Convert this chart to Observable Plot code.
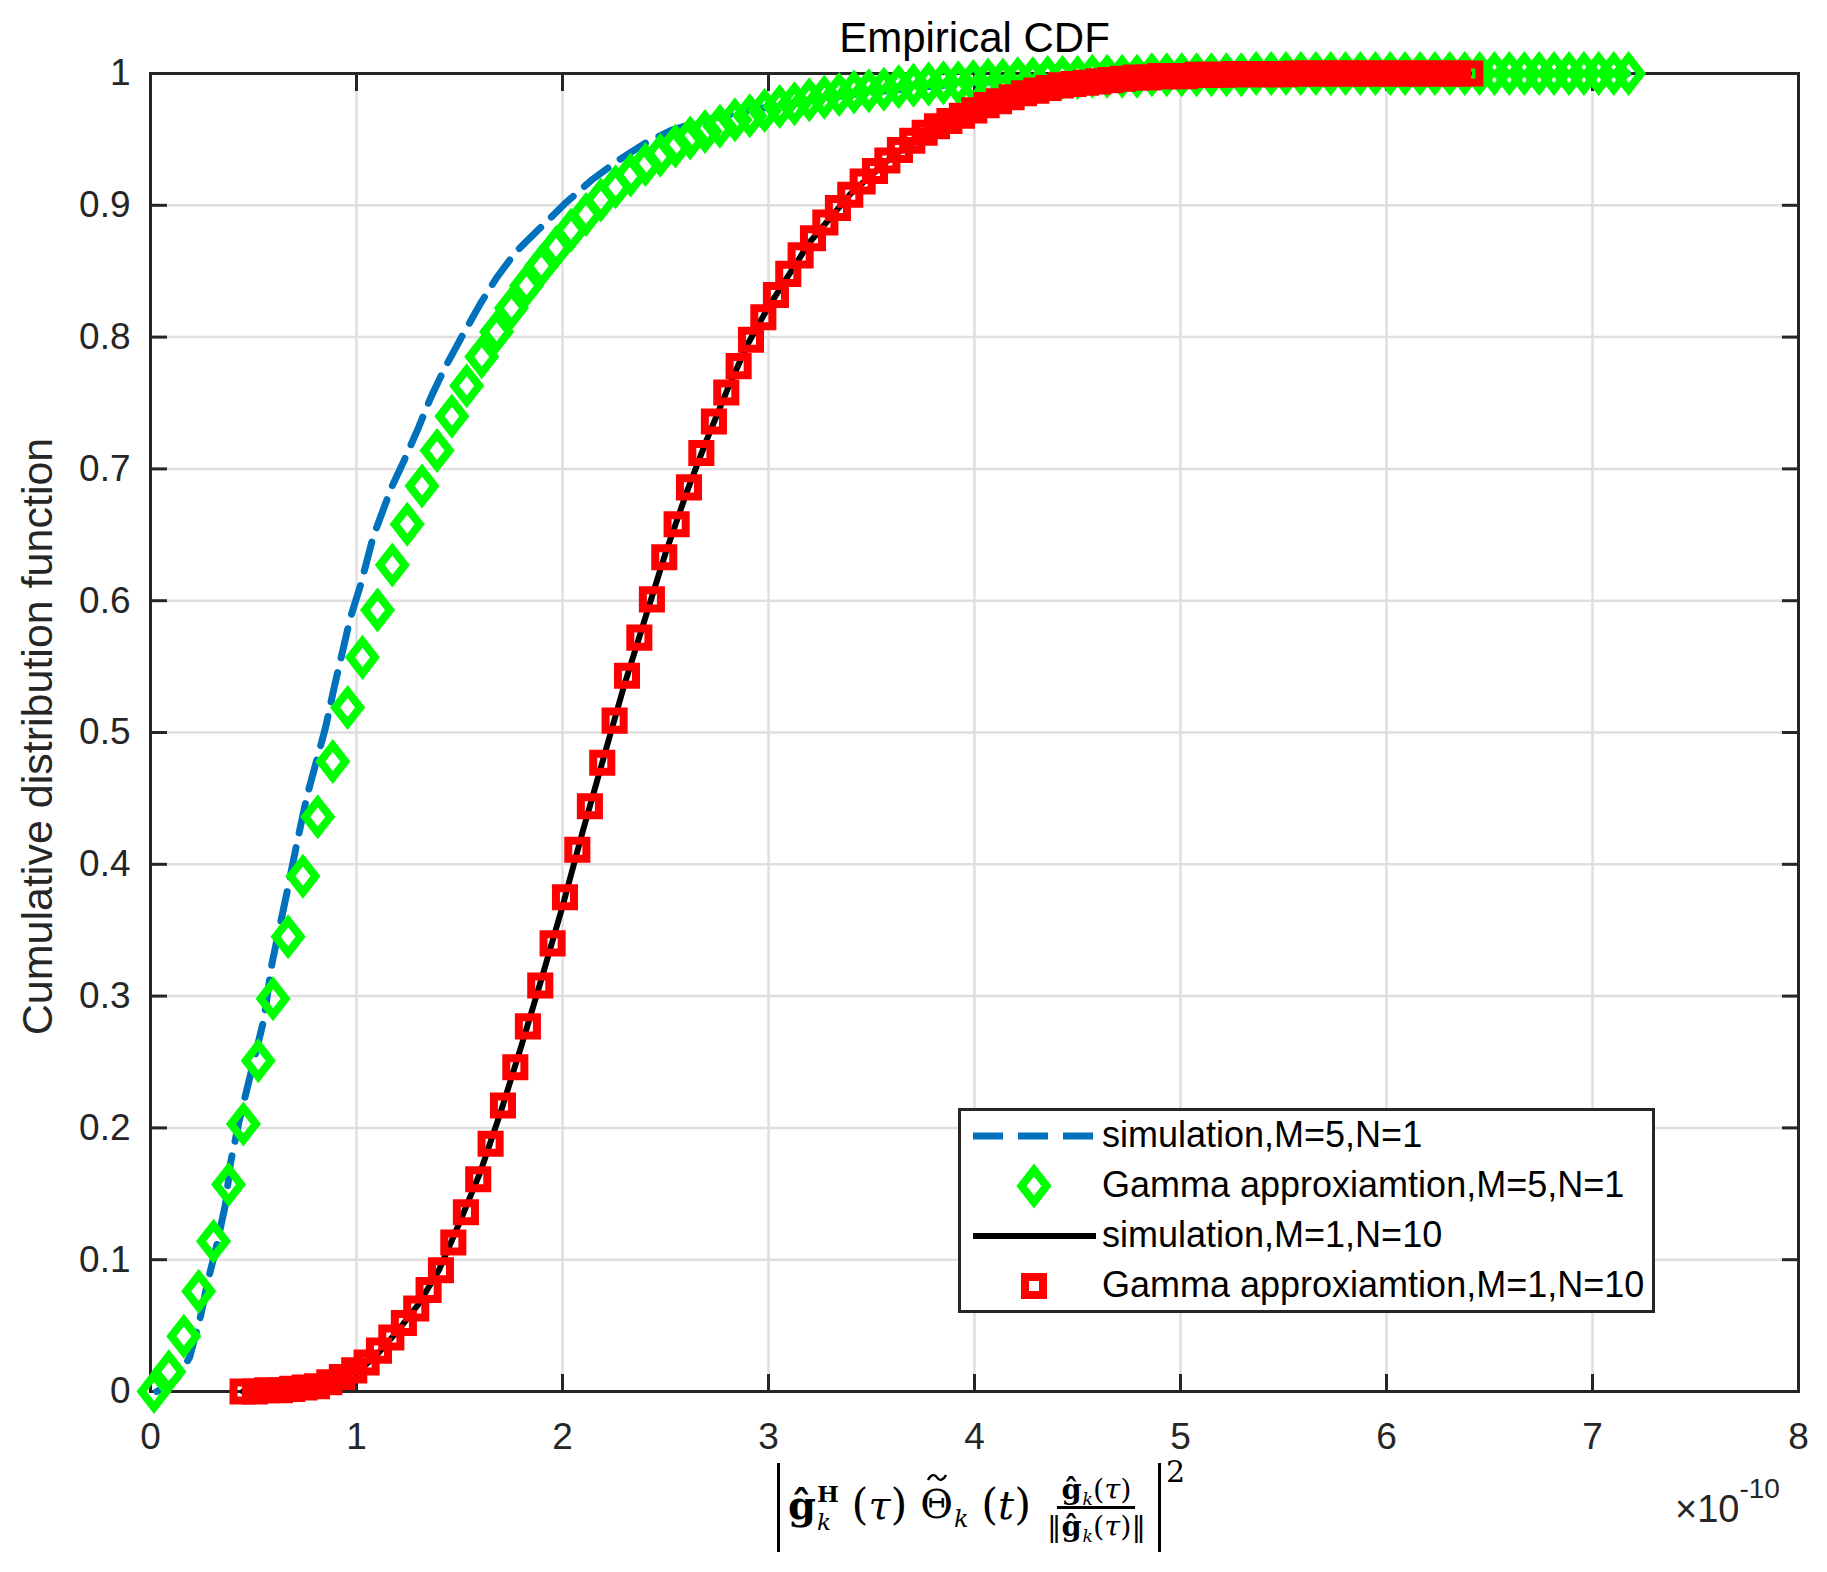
<!DOCTYPE html>
<html><head><meta charset="utf-8">
<script src="https://cdn.jsdelivr.net/npm/d3@7"></script>
<script src="https://cdn.jsdelivr.net/npm/@observablehq/plot@0.6"></script>
<style>
body{margin:0;background:#fff;}
#wrap{position:relative;width:1827px;height:1572px;overflow:hidden;}
#legend{position:absolute;left:958px;top:1108px;width:697px;height:205px;box-sizing:border-box;border:3px solid #262626;background:#fff;font-family:"Liberation Sans",Arial,sans-serif;font-size:36px;color:#000;}
.lrow{position:absolute;left:0;height:50px;width:100%;}
.lrow svg{position:absolute;left:9px;top:0;}
.lrow span{position:absolute;left:141px;top:4px;line-height:40px;white-space:nowrap;}
#xlab{position:absolute;left:777px;top:1463px;height:89px;display:flex;font-family:"DejaVu Serif","Liberation Serif",serif;color:#000;}
#absbox{border-left:3px solid #000;border-right:3px solid #000;height:89px;box-sizing:border-box;display:flex;align-items:center;padding:0 12px 0 8px;font-size:40px;white-space:nowrap;}
.m{line-height:1;}
.ss{display:inline-flex;flex-direction:column;font-size:0.58em;line-height:1.2;margin-left:1px;vertical-align:0.72em;}
.sub{font-size:0.6em;vertical-align:-0.35em;line-height:0;margin-left:1px;}
.par{font-size:1.08em;}
.acc{position:relative;display:inline-block;}
.acc svg{position:absolute;left:50%;top:-0.28em;transform:translateX(-50%);}
.frac{display:inline-flex;flex-direction:column;align-items:center;font-size:0.72em;margin-left:16px;line-height:1.05;}
.frac .num{border-bottom:3px solid #000;padding:0 4px 2px 4px;}
.frac .den{padding-top:2px;}
.sq{font-size:30px;margin-left:5px;margin-top:-6px;line-height:1;}
#sci{position:absolute;left:1675px;top:1488px;font-family:"Liberation Sans",Arial,sans-serif;font-size:38px;color:#262626;white-space:nowrap;}
#sci sup{font-size:28px;vertical-align:0.85em;line-height:0;}
</style></head>
<body><div id="wrap"></div>
<script>
// ---------------- data ----------------
const titleText = "Empirical CDF";
const yLabelText = "Cumulative distribution function";
const xTicks = [0, 1, 2, 3, 4, 5, 6, 7, 8];
const yTicks = [0, 0.1, 0.2, 0.3, 0.4, 0.5, 0.6, 0.7, 0.8, 0.9, 1];
const legendLabels = [
  "simulation,M=5,N=1",
  "Gamma approxiamtion,M=5,N=1",
  "simulation,M=1,N=10",
  "Gamma approxiamtion,M=1,N=10"
];

// simulation, M=5, N=1 (blue dashed)
const blueX = [0.03,0.08,0.13,0.19,0.243,0.28,0.316,0.364,0.388,0.43,0.477,0.55,0.59,0.663,0.712,0.76,0.80,0.85,0.89,0.93,0.97,1.02,1.08,1.17,1.23,1.30,1.36,1.43,1.51,1.60,1.68,1.77,1.88,2.01,2.14,2.27,2.40,2.53,2.70,2.90,3.10,3.40,3.70,4.00,4.50,5.00,5.50,6.20,7.17];
const blueY = [0,0.004,0.010,0.026,0.057,0.085,0.107,0.142,0.173,0.205,0.235,0.282,0.325,0.379,0.417,0.452,0.475,0.504,0.533,0.560,0.587,0.612,0.648,0.686,0.706,0.731,0.754,0.777,0.800,0.825,0.845,0.864,0.881,0.901,0.919,0.934,0.947,0.957,0.965,0.972,0.977,0.984,0.989,0.993,0.997,0.998,0.999,1.0,1.0];

// Gamma approximation, M=5, N=1 (green diamonds)
const greenX = [0.017,0.089,0.162,0.234,0.306,0.379,0.451,0.523,0.595,0.668,0.740,0.812,0.885,0.957,1.029,1.102,1.174,1.246,1.318,1.391,1.463,1.535,1.608,1.680,1.752,1.825,1.897,1.969,2.041,2.114,2.186,2.258,2.331,2.403,2.475,2.548,2.620,2.692,2.764,2.837,2.909,2.981,3.054,3.126,3.198,3.271,3.343,3.415,3.487,3.560,3.632,3.704,3.777,3.849,3.921,3.994,4.066,4.138,4.210,4.283,4.355,4.427,4.500,4.572,4.644,4.717,4.789,4.861,4.933,5.006,5.078,5.150,5.223,5.295,5.367,5.440,5.512,5.584,5.657,5.729,5.801,5.873,5.946,6.018,6.090,6.163,6.235,6.307,6.380,6.452,6.524,6.596,6.669,6.741,6.813,6.886,6.958,7.030,7.103,7.175];
const greenY = [0.000,0.015,0.042,0.076,0.114,0.157,0.203,0.251,0.298,0.345,0.391,0.436,0.478,0.519,0.557,0.593,0.627,0.658,0.687,0.714,0.740,0.763,0.785,0.804,0.822,0.839,0.854,0.868,0.881,0.893,0.904,0.914,0.923,0.931,0.938,0.945,0.951,0.956,0.960,0.965,0.968,0.972,0.975,0.977,0.980,0.982,0.984,0.986,0.987,0.988,0.990,0.991,0.992,0.993,0.993,0.994,0.995,0.995,0.996,0.996,0.997,0.997,0.997,0.998,0.998,0.998,0.998,0.999,0.999,0.999,0.999,0.999,0.999,0.999,1.000,1.000,1.000,1.000,1.000,1.000,1.000,1.000,1.000,1.000,1.000,1.000,1.000,1.000,1.000,1.000,1.000,1.000,1.000,1.000,1.000,1.000,1.000,1.000,1.000,1.000];

// simulation, M=1, N=10 (black solid)
const blackX = [0.45,0.70,0.90,1.00,1.10,1.20,1.30,1.40,1.50,1.60,1.70,1.80,1.90,2.00,2.10,2.20,2.30,2.40,2.50,2.60,2.70,2.80,2.90,3.00,3.20,3.40,3.60,3.80,4.00,4.30,4.70,5.20,6.40];
const blackY = [0,0.002,0.008,0.014,0.028,0.046,0.066,0.092,0.128,0.166,0.212,0.262,0.314,0.368,0.426,0.481,0.536,0.586,0.636,0.681,0.722,0.760,0.795,0.823,0.872,0.909,0.937,0.958,0.972,0.987,0.996,0.999,1.0];

// Gamma approximation, M=1, N=10 (red squares)
const redX = [0.447,0.507,0.567,0.628,0.688,0.748,0.808,0.868,0.929,0.989,1.049,1.109,1.169,1.230,1.290,1.350,1.410,1.470,1.531,1.591,1.651,1.711,1.771,1.832,1.892,1.952,2.012,2.072,2.133,2.193,2.253,2.313,2.373,2.434,2.494,2.554,2.614,2.674,2.735,2.795,2.855,2.915,2.975,3.036,3.096,3.156,3.216,3.276,3.337,3.397,3.457,3.517,3.577,3.638,3.698,3.758,3.818,3.878,3.939,3.999,4.059,4.119,4.180,4.240,4.300,4.360,4.420,4.481,4.541,4.601,4.661,4.721,4.782,4.842,4.902,4.962,5.022,5.083,5.143,5.203,5.263,5.323,5.384,5.444,5.504,5.564,5.624,5.685,5.745,5.805,5.865,5.925,5.986,6.046,6.106,6.166,6.226,6.287,6.347,6.407];
const redY = [0.000,0.000,0.001,0.001,0.002,0.003,0.004,0.007,0.011,0.016,0.022,0.031,0.041,0.052,0.063,0.077,0.092,0.113,0.136,0.161,0.188,0.217,0.246,0.277,0.308,0.340,0.375,0.411,0.444,0.477,0.509,0.543,0.572,0.601,0.633,0.658,0.686,0.712,0.736,0.758,0.778,0.798,0.815,0.832,0.848,0.862,0.875,0.887,0.898,0.908,0.918,0.926,0.934,0.942,0.949,0.955,0.960,0.964,0.968,0.972,0.976,0.979,0.982,0.985,0.987,0.989,0.991,0.992,0.993,0.994,0.995,0.996,0.997,0.997,0.998,0.998,0.998,0.999,0.999,0.999,0.9995,0.9995,0.9995,0.9995,0.9995,1.000,1.000,1.000,1.000,1.000,1.000,1.000,1.000,1.000,1.000,1.000,1.000,1.000,1.000,1.000];

// ---------------- build ----------------
const zip = (xs, ys) => xs.map((x, i) => ({x, y: ys[i]}));
const blue = zip(blueX, blueY), green = zip(greenX, greenY), black = zip(blackX, blackY), red = zip(redX, redY);

const COL = {blue: "#0072bd", green: "#00ff00", black: "#000000", red: "#ff0000"};
const diamond = {
  draw(ctx, size) {
    const r = Math.sqrt(size / Math.PI), w = r * 0.78;
    ctx.moveTo(0, -r); ctx.lineTo(w, 0); ctx.lineTo(0, r); ctx.lineTo(-w, 0); ctx.closePath();
  }
};
const axisCol = "#262626";
const fmt = d3.format("~g");

const chart = Plot.plot({
  width: 1827, height: 1572,
  marginLeft: 150, marginRight: 29, marginTop: 73, marginBottom: 181,
  x: {domain: [0, 8], axis: null},
  y: {domain: [0, 1], axis: null},
  style: {fontFamily: "Liberation Sans, Arial, sans-serif", fontSize: "37px", color: axisCol, background: "white", overflow: "visible"},
  marks: [
    Plot.gridX(xTicks, {stroke: "#dfdfdf", strokeOpacity: 1, strokeWidth: 2.5}),
    Plot.gridY(yTicks, {stroke: "#dfdfdf", strokeOpacity: 1, strokeWidth: 2.5}),
    Plot.frame({stroke: axisCol, strokeWidth: 3}),
    Plot.axisX(xTicks, {anchor: "bottom", tickSize: -17, tickPadding: 48, strokeWidth: 3, label: null, tickFormat: fmt, fontSize: 37}),
    Plot.axisX(xTicks, {anchor: "top", tickSize: -17, strokeWidth: 3, label: null, tickFormat: () => ""}),
    Plot.axisY(yTicks, {anchor: "left", tickSize: -17, tickPadding: 37, strokeWidth: 3, label: null, tickFormat: fmt, fontSize: 37}),
    Plot.axisY(yTicks, {anchor: "right", tickSize: -17, strokeWidth: 3, label: null, tickFormat: () => ""}),
    Plot.text([titleText], {text: d => d, frameAnchor: "top", dy: -35, lineAnchor: "middle", fontSize: 42, fill: "#000"}),
    Plot.text([yLabelText], {text: d => d, frameAnchor: "left", rotate: -90, dx: -129, dy: 4, lineAnchor: "top", textAnchor: "middle", fontSize: 43, fill: "#262626"}),
    Plot.line(blue, {x: "x", y: "y", stroke: COL.blue, strokeWidth: 7, strokeDasharray: "30,15"}),
    Plot.dot(green, {x: "x", y: "y", symbol: diamond, r: 16, stroke: COL.green, strokeWidth: 8, fill: "none"}),
    Plot.line(black, {x: "x", y: "y", stroke: COL.black, strokeWidth: 6}),
    Plot.dot(red, {x: "x", y: "y", symbol: "square", r: 10.2, stroke: COL.red, strokeWidth: 8, fill: "none"})
  ]
});
const wrap = document.getElementById("wrap");
wrap.appendChild(chart);

// legend
const leg = document.createElement("div");
leg.id = "legend";
const rowTops = [0, 50, 100, 150];
const samples = [
  `<line x1="3" y1="25" x2="126" y2="25" stroke="${COL.blue}" stroke-width="7" stroke-dasharray="30,15"/>`,
  `<path d="M64,9 L76.5,25 L64,41 L51.5,25 Z" fill="none" stroke="${COL.green}" stroke-width="8"/>`,
  `<line x1="3" y1="25" x2="126" y2="25" stroke="${COL.black}" stroke-width="6"/>`,
  `<rect x="55" y="16" width="18" height="18" fill="none" stroke="${COL.red}" stroke-width="8"/>`
];
legendLabels.forEach((lab, i) => {
  const r = document.createElement("div");
  r.className = "lrow";
  r.style.top = (rowTops[i]) + "px";
  r.innerHTML = `<svg width="130" height="50">${samples[i]}</svg><span>${lab}</span>`;
  leg.appendChild(r);
});
wrap.appendChild(leg);

// x label (math expression)
const tilde = `<svg width="22" height="9" viewBox="0 0 22 9"><path d="M2,7 C5,1 9,1 11,4.5 C13,8 17,8 20,2" fill="none" stroke="#000" stroke-width="2.4"/></svg>`;
const xl = document.createElement("div");
xl.id = "xlab";
xl.innerHTML = `<div id="absbox"><span class="m"><b>ĝ</b><span class="ss"><b>H</b><i>k</i></span>&nbsp;<span class="par">(</span><i>τ</i><span class="par">)</span>&nbsp;<span class="acc">${tilde}Θ</span><span class="sub"><i>k</i></span>&nbsp;<span class="par">(</span><i>t</i><span class="par">)</span></span><span class="frac"><span class="num"><b>ĝ</b><span class="sub"><i>k</i></span>(<i>τ</i>)</span><span class="den">‖<b>ĝ</b><span class="sub"><i>k</i></span>(<i>τ</i>)‖</span></span></div><span class="sq">2</span>`;
wrap.appendChild(xl);

const sci = document.createElement("div");
sci.id = "sci";
sci.innerHTML = `×10<sup>-10</sup>`;
wrap.appendChild(sci);
</script></body></html>
